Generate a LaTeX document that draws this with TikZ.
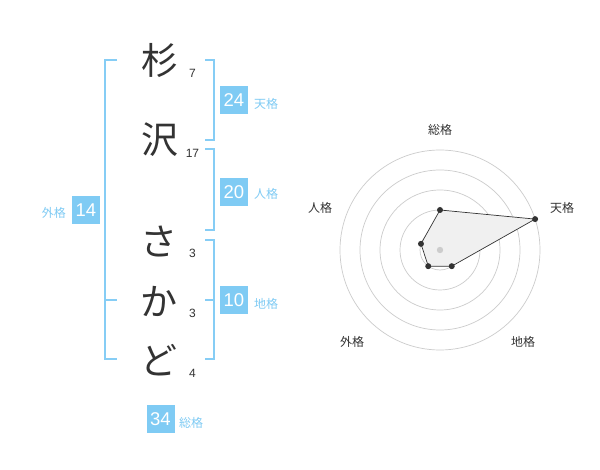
\documentclass[tikz,border=0pt]{standalone}
\usepackage{fontspec}
\setmainfont{Liberation Sans}
\newfontfamily\jp{Noto Sans CJK JP}
\definecolor{sky}{HTML}{7FCBF4}
\definecolor{brk}{HTML}{86CDF5}
\definecolor{ink}{HTML}{333333}
\begin{document}
\begin{tikzpicture}[x=1pt,y=-1pt]
\useasboundingbox[fill=white] (0,0) rectangle (600,470);
\tikzset{
 kanji/.style={font=\jp\fontsize{37}{37}\selectfont, text=ink, inner sep=0},
 strokes/.style={font=\fontsize{12}{12}\selectfont, text=ink, inner sep=0},
 numbox/.style={fill=sky, text=white, minimum width=28pt, minimum height=28pt, inner sep=0, font=\fontsize{18.5}{18.5}\selectfont},
 kaku/.style={text=sky, font=\jp\fontsize{12}{12}\selectfont, inner sep=0},
 bracket/.style={draw=brk, line width=1.5pt},
 ring/.style={draw=black!20, line width=0.7pt},
 axislab/.style={font=\jp\fontsize{12}{12}\selectfont, text=ink, inner sep=0},
 dot/.style={circle, fill=ink, inner sep=0, minimum size=6pt},
}
% characters
\node[kanji] (k1) at (160,60) {杉};
\node[kanji] (k2) at (160,140) {沢};
\node[kanji] (k3) at (159,242) {さ};
\node[kanji] (k4) at (159,301) {か};
\node[kanji] (k5) at (159,360) {ど};
\node[strokes] (s1) at (192.5,73) {7};
\node[strokes] (s2) at (192.5,153) {17};
\node[strokes] (s3) at (192.5,253) {3};
\node[strokes] (s4) at (192.5,313) {3};
\node[strokes] (s5) at (192.5,373) {4};
% brackets
\draw[bracket] (117,60) -- (105,60) -- (105,359) -- (117,359);
\draw[bracket] (105,300) -- (117,300);
\draw[bracket] (205,60) -- (214,60) -- (214,140) -- (205,140);
\draw[bracket] (205,149) -- (214,149) -- (214,230) -- (205,230);
\draw[bracket] (205,240) -- (214,240) -- (214,359) -- (205,359);
\draw[bracket] (205,300) -- (214,300);
% boxes
\node[numbox] (ten) at (234,100) {24};
\node[kaku, anchor=west] (tenl) at (254,104) {天格};
\node[numbox] (jin) at (234,192) {20};
\node[kaku, anchor=west] (jinl) at (254,194) {人格};
\node[numbox] (chi) at (234,300) {10};
\node[kaku, anchor=west] (chil) at (254,304) {地格};
\node[numbox] (gai) at (86,210) {14};
\node[kaku, anchor=east] (gail) at (66,213) {外格};
\node[numbox] (sou) at (160.5,419) {34};
\node[kaku, anchor=west] (soul) at (179,423) {総格};
% radar
\coordinate (c) at (440,250);
\foreach \r in {20,40,60,80,100} \draw[ring] (c) circle[radius=\r];
\coordinate (pS) at ([shift={(-90:40)}]c);
\coordinate (pT) at ([shift={(-18:100)}]c);
\coordinate (pC) at ([shift={(54:20)}]c);
\coordinate (pG) at ([shift={(126:20)}]c);
\coordinate (pJ) at ([shift={(198:20)}]c);
\filldraw[fill=black!6, draw=ink, line width=0.7pt] (pS) -- (pT) -- (pC) -- (pG) -- (pJ) -- cycle;
\fill[black!20] (c) circle[radius=3.2];
\foreach \p in {pS,pT,pC,pG,pJ} \node[dot] at (\p) {};
\node[axislab] (aS) at (440,130) {総格};
\node[axislab] (aT) at (562,208) {天格};
\node[axislab] (aC) at (523,342) {地格};
\node[axislab] (aG) at (352,342) {外格};
\node[axislab] (aJ) at (320,208) {人格};
\end{tikzpicture}
\end{document}
